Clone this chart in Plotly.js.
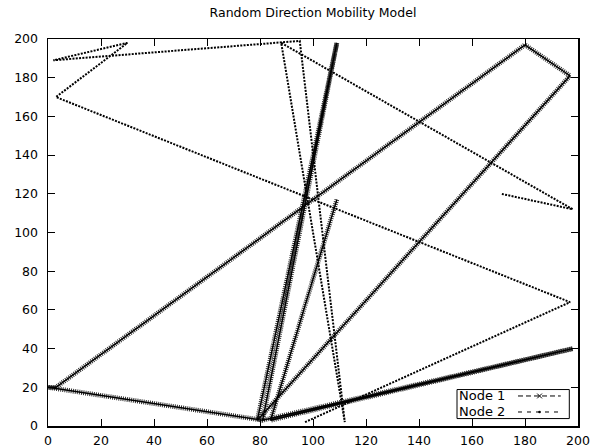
<!DOCTYPE html>
<html>
<head>
<meta charset="utf-8">
<script src="https://cdn.plot.ly/plotly-3.0.1.min.js"></script>
<style>
  html, body { margin: 0; padding: 0; background: #fff; }
  #chart { width: 595px; height: 447px; }
</style>
</head>
<body>
<div id="chart"></div>
<script>
// Waypoints visited by each node (x, y in metres of the 200 x 200 area)
const node1X = [109, 84, 198, 81, 0, 3, 180, 197, 79, 109, 81];
const node1Y = [117, 3, 40, 3, 20, 20, 197, 181, 3, 198, 3];

const node2X = [97, 197, 3, 30, 2, 95, 112, 88, 198, 171];
const node2Y = [2, 64, 170, 198, 189, 199, 2, 198, 112, 120];

const axisTicks = [0, 20, 40, 60, 80, 100, 120, 140, 160, 180, 200];
const seriesNames = ['Node 1', 'Node 2'];
const chartTitle = 'Random Direction Mobility Model';

const FONT = 'DejaVu Sans, Liberation Sans, Arial, sans-serif';

const traces = [
  // Node 1: dense "x" point marks, rendered as a hatched band with a solid core
  {
    x: node1X, y: node1Y, type: 'scatter', mode: 'lines',
    line: { color: '#2e2e2e', width: 4.8, dash: '1px,1.1px' },
    hoverinfo: 'skip', showlegend: false
  },
  {
    x: node1X, y: node1Y, type: 'scatter', mode: 'lines', name: seriesNames[0],
    line: { color: '#000', width: 1.4 },
    showlegend: false
  },
  // Node 2: dotted path
  {
    x: node2X, y: node2Y, type: 'scatter', mode: 'lines', name: seriesNames[1],
    line: { color: '#000', width: 2, dash: '2px,1.3px' },
    showlegend: false
  }
];

const axisCommon = {
  range: [0, 200],
  tickmode: 'array',
  tickvals: axisTicks,
  ticktext: axisTicks.map(String),
  ticks: 'inside',
  ticklen: 7,
  tickwidth: 1,
  tickcolor: '#000',
  showline: true,
  linecolor: '#000',
  linewidth: 1.5,
  mirror: 'ticks',
  showgrid: false,
  zeroline: false,
  automargin: false,
  fixedrange: true,
  tickfont: { family: FONT, size: 12.5, color: '#000' }
};

// Legend drawn gnuplot-style: label first, then the line sample
const lx0 = 0.7717, lx1 = 0.9836, ly0 = 0.0192, ly1 = 0.0942;
const row1 = 0.0776, row2 = 0.0362;
const sx0 = 0.8868, sx1 = 0.9675, smid = 0.9275;
const mdx = 0.0045, mdy = 0.0062;

const shapes = [
  { type: 'rect', xref: 'paper', yref: 'paper', x0: lx0, x1: lx1, y0: ly0, y1: ly1,
    line: { color: '#000', width: 1 }, fillcolor: '#fff', layer: 'above' },
  { type: 'line', xref: 'paper', yref: 'paper', x0: sx0, x1: sx1, y0: row1, y1: row1,
    line: { color: '#000', width: 1, dash: '5px,3px' } },
  { type: 'path', xref: 'paper', yref: 'paper',
    path: `M${smid - mdx},${row1 - mdy} L${smid + mdx},${row1 + mdy} M${smid - mdx},${row1 + mdy} L${smid + mdx},${row1 - mdy}`,
    line: { color: '#000', width: 1 } },
  { type: 'line', xref: 'paper', yref: 'paper', x0: sx0, x1: sx1, y0: row2, y1: row2,
    line: { color: '#000', width: 1, dash: '4px,5px' } },
  { type: 'circle', xref: 'paper', yref: 'paper',
    x0: smid - 0.0025, x1: smid + 0.0025, y0: row2 - 0.0034, y1: row2 + 0.0034,
    line: { color: '#000', width: 0 }, fillcolor: '#000' }
];

const annotations = seriesNames.map((name, i) => ({
  xref: 'paper', yref: 'paper', x: 0.866, y: i === 0 ? row1 : row2,
  xanchor: 'right', yanchor: 'middle', showarrow: false,
  text: name, font: { family: FONT, size: 13, color: '#000' }
}));

const layout = {
  width: 595,
  height: 447,
  margin: { l: 48, r: 17, t: 39, b: 21, pad: 0 },
  paper_bgcolor: '#fff',
  plot_bgcolor: '#fff',
  title: {
    text: chartTitle,
    font: { family: FONT, size: 12.5, color: '#000' },
    x: 0.5, xref: 'paper', xanchor: 'center',
    y: 1 - 13 / 447, yref: 'container', yanchor: 'middle'
  },
  xaxis: Object.assign({}, axisCommon, { ticklabelstandoff: 2 }),
  yaxis: Object.assign({}, axisCommon, { ticklabelstandoff: 6 }),
  showlegend: false,
  shapes: shapes,
  annotations: annotations
};

Plotly.newPlot('chart', traces, layout, { staticPlot: true, displayModeBar: false });
</script>
</body>
</html>
